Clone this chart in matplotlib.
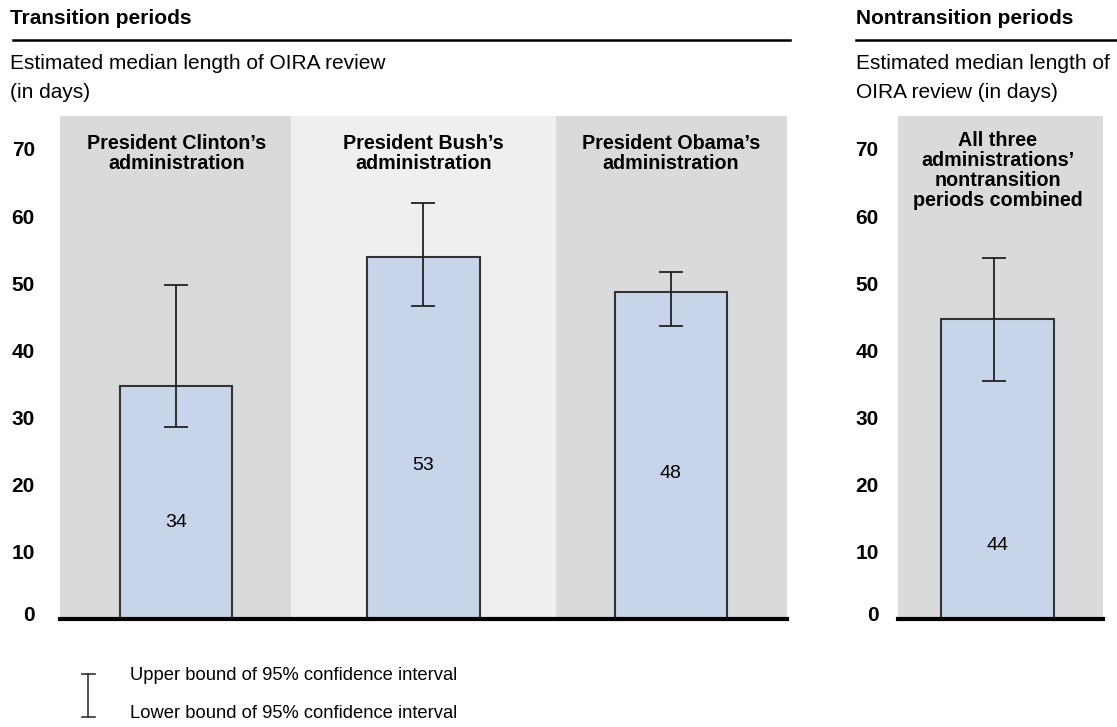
import matplotlib.pyplot as plt
from matplotlib.lines import Line2D
from matplotlib.transforms import ScaledTranslation

plt.rcParams['font.family'] = ['Liberation Sans', 'DejaVu Sans']

# data
admins = ["President Clinton\u2019s\nadministration",
          "President Bush\u2019s\nadministration",
          "President Obama\u2019s\nadministration"]
medians = [34.7, 53.9, 48.7]
upper = [49.8, 62.0, 51.7]
lower = [28.6, 46.6, 43.7]
value_labels = ["34", "53", "48"]

combined_name = "All three\nadministrations\u2019\nnontransition\nperiods combined"
combined_median = [44.7]
combined_upper = [53.8]
combined_lower = [35.5]
combined_label = ["44"]

yticks = [0, 10, 20, 30, 40, 50, 60, 70]

# where the value numbers sit inside the bars
label_y = [14.3, 22.8, 21.7]
combined_label_y = [11.0]

dark_bg = "#d9dadc"
light_bg = "#efefef"
bar_col = "#c7d4ea"
W, H = 1117, 727

fig = plt.figure(figsize=(W / 100, H / 100), dpi=100)

def px_axes(x0, y0, x1, y1):
    return fig.add_axes([x0 / W, 1 - y1 / H, (x1 - x0) / W, (y1 - y0) / H])

ylim_top = 74.9

def style(ax, pad):
    ax.set_ylim(0, ylim_top)
    ax.set_yticks(yticks)
    ax.set_yticklabels([str(t) for t in yticks], fontsize=15, fontweight='bold')
    ax.tick_params(axis='y', length=0, pad=pad)
    ax.tick_params(axis='x', length=0, labelbottom=False)
    # the zero label sits a little above the thick base line
    lab0 = ax.get_yticklabels()[0]
    lab0.set_transform(lab0.get_transform() + ScaledTranslation(0, 4 / 72, fig.dpi_scale_trans))
    for s in ['top', 'right', 'left']:
        ax.spines[s].set_visible(False)
    ax.spines['bottom'].set_linewidth(3)
    ax.spines['bottom'].set_color('black')
    ax.spines['bottom'].set_zorder(5)
    ax.set_facecolor('white')

# left panel: transition periods
ax = px_axes(60, 116, 787, 619)
ax.set_xlim(-0.47, 2.47)
bounds = [-0.47, 0.465, 1.535, 2.47]
bgs = [dark_bg, light_bg, dark_bg]
for i in range(3):
    ax.axvspan(bounds[i], bounds[i + 1], color=bgs[i], lw=0, zorder=0)
x = list(range(len(admins)))
ax.bar(x, medians, width=0.453, color=bar_col, edgecolor='#333333', linewidth=1.5, zorder=2)
yerr = [[m - l for m, l in zip(medians, lower)], [u - m for m, u in zip(medians, upper)]]
ax.errorbar(x, medians, yerr=yerr, fmt='none', ecolor='#222222', elinewidth=1.3,
            capsize=8.5, capthick=1.3, zorder=3)
for i in x:
    ax.text(i, label_y[i], value_labels[i], ha='center', va='center', fontsize=14)
    ax.text(i, 69.3, admins[i], ha='center', va='center', fontsize=14.2,
            fontweight='bold', linespacing=1.05)
style(ax, 18)

# right panel: nontransition periods
ax2 = px_axes(898, 116, 1103, 619)
ax2.set_xlim(-0.402, 0.426)
ax2.axvspan(-0.402, 0.426, color=dark_bg, lw=0, zorder=0)
ax2.bar([0], combined_median, width=0.453, color=bar_col, edgecolor='#333333',
        linewidth=1.5, zorder=2)
ax2.errorbar([-0.014], combined_median,
             yerr=[[combined_median[0] - combined_lower[0]], [combined_upper[0] - combined_median[0]]],
             fmt='none', ecolor='#222222', elinewidth=1.3, capsize=8.5, capthick=1.3, zorder=3)
ax2.text(0, combined_label_y[0], combined_label[0], ha='center', va='center', fontsize=14)
ax2.text(0, 66.8, combined_name, ha='center', va='center', fontsize=14.2,
         fontweight='bold', linespacing=1.08)
style(ax2, 14)

# headings
def fx(px):
    return px / W

def fy(py):
    return 1 - py / H

fig.text(fx(10), fy(18), "Transition periods", fontsize=15, fontweight='bold', va='center')
fig.text(fx(856), fy(18), "Nontransition periods", fontsize=15, fontweight='bold', va='center')
fig.add_artist(Line2D([fx(13), fx(790)], [fy(40), fy(40)], color='black', lw=1.8))
fig.add_artist(Line2D([fx(856), fx(1117)], [fy(40), fy(40)], color='black', lw=1.8))
fig.text(fx(10), fy(78), "Estimated median length of OIRA review\n(in days)",
         fontsize=15, va='center', linespacing=1.65)
fig.text(fx(856), fy(78), "Estimated median length of\nOIRA review (in days)",
         fontsize=15, va='center', linespacing=1.65)

# legend for the error bar
fig.add_artist(Line2D([fx(88), fx(88)], [fy(674), fy(717)], color='#333333', lw=1.2))
fig.add_artist(Line2D([fx(82), fx(95)], [fy(674), fy(674)], color='#333333', lw=1.2))
fig.add_artist(Line2D([fx(82), fx(95)], [fy(717), fy(717)], color='#333333', lw=1.2))
fig.text(fx(130), fy(675), "Upper bound of 95% confidence interval", fontsize=13.2, va='center')
fig.text(fx(130), fy(713), "Lower bound of 95% confidence interval", fontsize=13.2, va='center')

fig.savefig("out.png", dpi=100)
